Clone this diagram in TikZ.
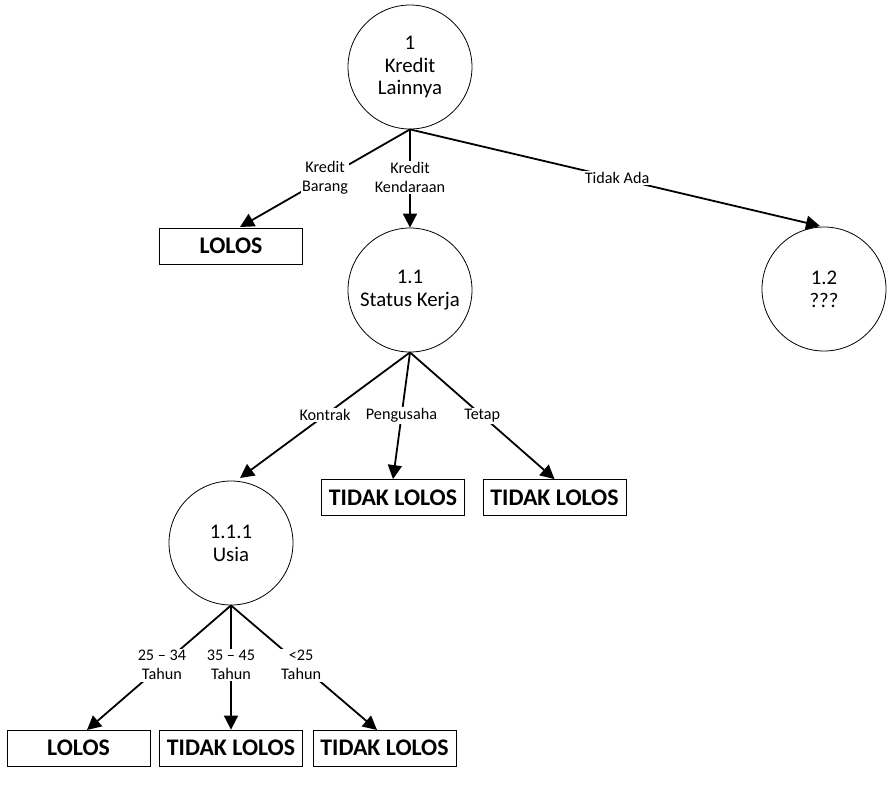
\documentclass[tikz,border=0pt]{standalone}
\usepackage{fontspec}
\setmainfont{Carlito}
\usetikzlibrary{arrows.meta}
\begin{document}
\begin{tikzpicture}[x=1pt,y=-1pt,
  decision/.style={draw=black, line width=0.8pt, circle, minimum size=124pt, inner sep=0pt, align=center, font=\fontsize{20.8}{22.8}\selectfont},
  leaf/.style={draw=black, line width=0.8pt, rectangle, minimum width=143pt, minimum height=36pt, inner sep=0pt, font=\fontsize{23.8}{26}\selectfont\bfseries},
  conn/.style={line width=1.8pt, -{Triangle[length=14pt,width=14pt]}},
  lab/.style={fill=white, inner sep=1.5pt, align=center, font=\fontsize{16.2}{19}\selectfont}]
\useasboundingbox (0,0) rectangle (895,785);
\node[decision] (c1) at (410,67) {1\\Kredit\\Lainnya};
\node[decision] (c11) at (410,290) {1.1\\Status Kerja};
\node[decision] (c12) at (824,289) {1.2\\???};
\node[decision] (c111) at (231,543) {1.1.1\\Usia};
\node[leaf] (b1) at (231,246) {LOLOS};
\node[leaf] (b2) at (393,497.5) {TIDAK LOLOS};
\node[leaf] (b3) at (554.5,497.5) {TIDAK LOLOS};
\node[leaf] (b4) at (78.5,748) {LOLOS};
\node[leaf] (b5) at (231,748) {TIDAK LOLOS};
\node[leaf] (b6) at (384.5,748) {TIDAK LOLOS};
\coordinate (t1) at (240,227);
\coordinate (t2) at (240,478);
\coordinate (t4) at (87,730);
\coordinate (t6) at (377,730);
\coordinate (t12) at (820,226);
\draw[conn] (c1.south) -- node[lab, pos=0.5] {Kredit\\Barang} (t1);
\draw[conn] (c1.south) -- node[lab, pos=0.49] {Kredit\\Kendaraan} (c11.north);
\draw[conn] (c1.south) -- node[lab, pos=0.505] {Tidak Ada} (t12);
\draw[conn] (c11.south) -- node[lab, pos=0.5] {Kontrak} (t2);
\draw[conn] (c11.south) -- node[lab, pos=0.5] {Pengusaha} (b2.north);
\draw[conn] (c11.south) -- node[lab, pos=0.5] {Tetap} (b3.north);
\draw[conn] (c111.south) -- node[lab, pos=0.48] {25 – 34\\Tahun} (t4);
\draw[conn] (c111.south) -- node[lab, pos=0.48] {35 – 45\\Tahun} (b5.north);
\draw[conn] (c111.south) -- node[lab, pos=0.48] {<25\\Tahun} (t6);
\end{tikzpicture}
\end{document}
